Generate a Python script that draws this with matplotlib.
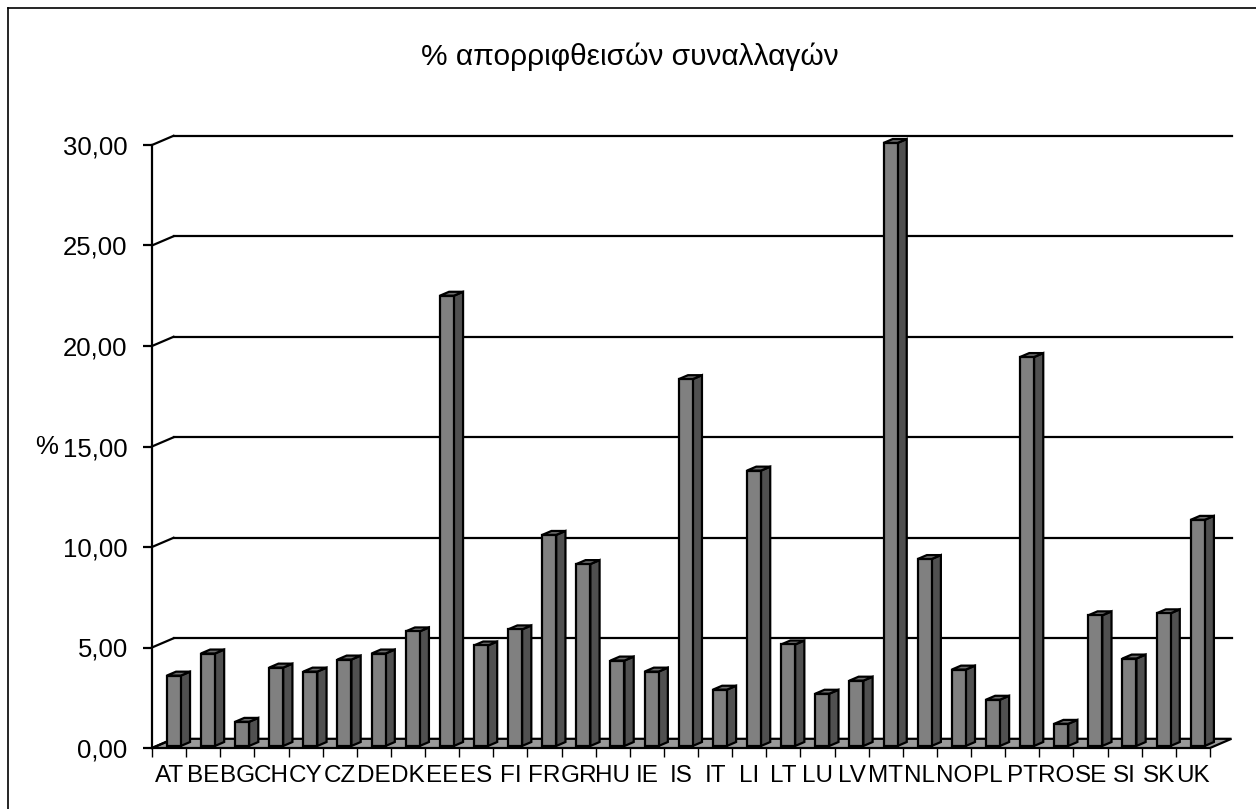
import matplotlib
matplotlib.use('Agg')
import matplotlib.pyplot as plt
from matplotlib.patches import Polygon
from matplotlib.lines import Line2D
from matplotlib.ticker import FuncFormatter, FixedLocator

plt.rcParams['font.family'] = ['Liberation Sans', 'DejaVu Sans']

countries = ['AT', 'BE', 'BG', 'CH', 'CY', 'CZ', 'DE', 'DK', 'EE', 'ES', 'FI',
             'FR', 'GR', 'HU', 'IE', 'IS', 'IT', 'LI', 'LT', 'LU', 'LV', 'MT',
             'NL', 'NO', 'PL', 'PT', 'RO', 'SE', 'SI', 'SK', 'UK']
rejected_pct = [3.5, 4.6, 1.2, 3.9, 3.7, 4.3, 4.6, 5.7, 22.4, 5.0, 5.8,
                10.5, 9.05, 4.25, 3.7, 18.25, 2.8, 13.7, 5.05, 2.6, 3.25, 30.0,
                9.3, 3.8, 2.3, 19.35, 1.1, 6.5, 4.35, 6.6, 11.25]
y_ticks = [0, 5, 10, 15, 20, 25, 30]
title = '% απορριφθεισών συναλλαγών'

n = len(countries)
W, H = 1256, 809
fig = plt.figure(figsize=(W / 100, H / 100), dpi=100)
ax = fig.add_axes([152 / W, (H - 748) / H, 1058 / W, 603 / H])
ax.set_xlim(0, n)
ax.set_ylim(0, 30)

# pseudo 3d depth offset (data units)
DX, DY = 0.63, 0.458
d0, bd = 0.22, 0.43
bw = 0.41
lw = 1.6

# floor
floor = Polygon([(0, 0), (n, 0), (n + DX, DY), (DX, DY)], closed=True,
                facecolor='#9a9a9a', edgecolor='black', lw=lw, clip_on=False, zorder=1)
ax.add_patch(floor)

# back wall gridlines + left wall connectors
for v in y_ticks:
    if v > 0:
        ax.plot([DX, n + DX], [v + DY, v + DY], color='black', lw=lw, clip_on=False, zorder=1)
    ax.plot([0, DX], [v, v + DY], color='black', lw=lw, clip_on=False, zorder=1)

# bars
y0 = d0 * DY
for i, v in enumerate(rejected_pct):
    xc = i + 0.5 + d0 * DX
    xl, xr = xc - bw / 2, xc + bw / 2
    bdx, bdy = bd * DX, bd * DY
    side = Polygon([(xr, y0), (xr + bdx, y0 + bdy), (xr + bdx, y0 + bdy + v), (xr, y0 + v)],
                   closed=True, facecolor='#505050', edgecolor='black', lw=lw,
                   clip_on=False, zorder=3)
    top = Polygon([(xl, y0 + v), (xr, y0 + v), (xr + bdx, y0 + v + bdy), (xl + bdx, y0 + v + bdy)],
                  closed=True, facecolor='#6e6e6e', edgecolor='black', lw=lw,
                  clip_on=False, zorder=3)
    ax.add_patch(side)
    ax.add_patch(top)
ax.bar([i + 0.5 + d0 * DX for i in range(n)], rejected_pct, width=bw, bottom=y0,
       color='#808080', edgecolor='black', linewidth=lw, clip_on=False, zorder=4)

for s in ['top', 'right', 'bottom']:
    ax.spines[s].set_visible(False)
ax.spines['left'].set_linewidth(lw)
ax.spines['left'].set_zorder(5)

ax.yaxis.set_major_locator(FixedLocator(y_ticks))
ax.yaxis.set_major_formatter(FuncFormatter(lambda v, p: ('%.2f' % v).replace('.', ',')))
ax.tick_params(axis='y', direction='out', length=6.5, width=lw, pad=11, labelsize=18.5)

ax.set_xticks(range(n + 1))
ax.set_xticklabels([])
ax.set_xticks([i + 0.5 for i in range(n)], minor=True)
ax.set_xticklabels(countries, minor=True)
ax.tick_params(axis='x', which='major', direction='out', length=6.5, width=1.0)
ax.tick_params(axis='x', which='minor', length=0, pad=12, labelsize=17.5)

ax.set_ylabel('%', rotation=0, fontsize=18.5, ha='left', va='center')
ax.yaxis.set_label_coords(-0.1100, 0.5)

fig.text(630 / W, (H - 57) / H, title, ha='center', va='center', fontsize=21.5)

# outer chart frame (top and left edges only visible)
fig.add_artist(Line2D([8 / W, 1], [(H - 8) / H, (H - 8) / H], color='black', lw=1.2))
fig.add_artist(Line2D([8 / W, 8 / W], [0, (H - 8) / H], color='black', lw=1.2))

fig.savefig('out.png', dpi=100)
